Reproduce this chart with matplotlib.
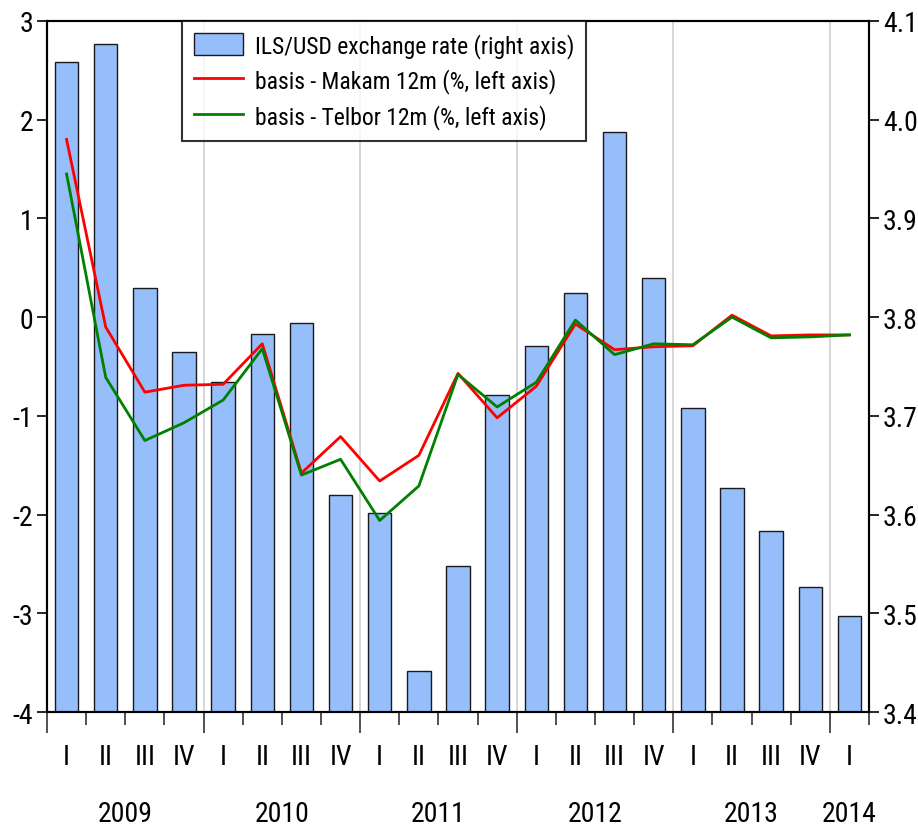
import matplotlib
matplotlib.use("Agg")
import matplotlib.pyplot as plt
from matplotlib import font_manager
from matplotlib.ticker import FixedLocator, FormatStrFormatter

# pick a narrow sans font if one is available
family = 'Liberation Sans'
for cand in ['Liberation Sans Narrow', 'Arial Narrow', 'Roboto Condensed', 'Liberation Sans']:
    try:
        font_manager.findfont(cand, fallback_to_default=False)
        family = cand
        break
    except Exception:
        pass
narrow = family != 'Liberation Sans'

plt.rcParams['font.family'] = [family, 'DejaVu Sans']
plt.rcParams['axes.unicode_minus'] = False

# quarterly data 2009Q1 - 2014Q1
quarters = ['I', 'II', 'III', 'IV'] * 5 + ['I']
years = ['2009', '2010', '2011', '2012', '2013', '2014']
ils_usd = [4.058, 4.077, 3.830, 3.765, 3.734, 3.783, 3.794, 3.620, 3.602, 3.442,
           3.548, 3.721, 3.771, 3.824, 3.988, 3.840, 3.708, 3.627, 3.583, 3.527, 3.497]
makam = [1.80, -0.10, -0.76, -0.69, -0.68, -0.27, -1.58, -1.21, -1.66, -1.40,
         -0.57, -1.02, -0.70, -0.07, -0.33, -0.30, -0.29, 0.02, -0.19, -0.18, -0.18]
telbor = [1.45, -0.61, -1.25, -1.07, -0.84, -0.32, -1.60, -1.44, -2.06, -1.71,
          -0.58, -0.91, -0.66, -0.03, -0.38, -0.27, -0.28, 0.00, -0.21, -0.20, -0.18]

x = list(range(len(quarters)))
fs = 20 if narrow else 17
lfs = 17 if narrow else 14

fig = plt.figure(figsize=(9.18, 8.29), dpi=100)
ax = fig.add_axes([0.0512, 0.1399, 0.8954, 0.8336])
ax2 = ax.twinx()
ax.set_zorder(ax2.get_zorder() + 1)
ax.patch.set_visible(False)

# bars on the right axis
bars = ax2.bar(x, ils_usd, width=0.6, color='#96BEFA', edgecolor='#1a1a1a',
               linewidth=1.0, zorder=2, label='ILS/USD exchange rate (right axis)')
ax2.set_ylim(3.4, 4.1)
ax2.yaxis.set_major_locator(FixedLocator([3.4, 3.5, 3.6, 3.7, 3.8, 3.9, 4.0, 4.1]))
ax2.yaxis.set_major_formatter(FormatStrFormatter('%.1f'))

# year separators
for k in range(4, len(x), 4):
    ax2.axvline(k - 0.5, color='#d0d0d0', linewidth=1.2, zorder=0)

# lines on the left axis
l1, = ax.plot(x, makam, color='#ff0000', linewidth=2.0, label='basis - Makam 12m (%, left axis)')
l2, = ax.plot(x, telbor, color='#008000', linewidth=2.0, label='basis - Telbor 12m (%, left axis)')
ax.set_ylim(-4, 3)
ax.set_yticks(range(-4, 4))
ax.set_xlim(-0.5, len(x) - 0.5)

# x ticks: long at year boundaries, short at quarter boundaries
ax.set_xticks([k - 0.5 for k in range(0, len(x), 4)])
ax.set_xticks([k - 0.5 for k in range(len(x) + 1)], minor=True)
ax.set_xticklabels([])
ax.tick_params(axis='x', which='major', length=15, width=1.2, color='#333333')
ax.tick_params(axis='x', which='minor', length=9, width=1.2, color='#333333')
ax2.tick_params(axis='x', which='both', length=0)

ax.tick_params(axis='y', labelsize=fs, length=7, width=1.2, pad=3)
ax2.tick_params(axis='y', labelsize=fs, length=7, width=1.2, pad=3)

for sp in list(ax.spines.values()) + list(ax2.spines.values()):
    sp.set_linewidth(1.5)
    sp.set_color('black')

trans = ax.get_xaxis_transform()
for i, q in enumerate(quarters):
    ax.text(i, -0.064, q, transform=trans, ha='center', va='center', fontsize=fs)
for j, yr in enumerate(years):
    start = 4 * j
    end = min(start + 3, len(x) - 1)
    ax.text((start + end) / 2, -0.147, yr, transform=trans, ha='center', va='center', fontsize=fs)

leg = ax.legend(handles=[bars, l1, l2], loc='upper left', bbox_to_anchor=(0.164, 1.0),
                fontsize=lfs, frameon=True, fancybox=False, borderaxespad=0,
                handlelength=2.6 if not narrow else 2.1, handleheight=1.1,
                labelspacing=0.45, borderpad=0.5, handletextpad=0.5)
leg.get_frame().set_edgecolor('black')
leg.get_frame().set_linewidth(1.5)

fig.savefig('out.png', dpi=100)
